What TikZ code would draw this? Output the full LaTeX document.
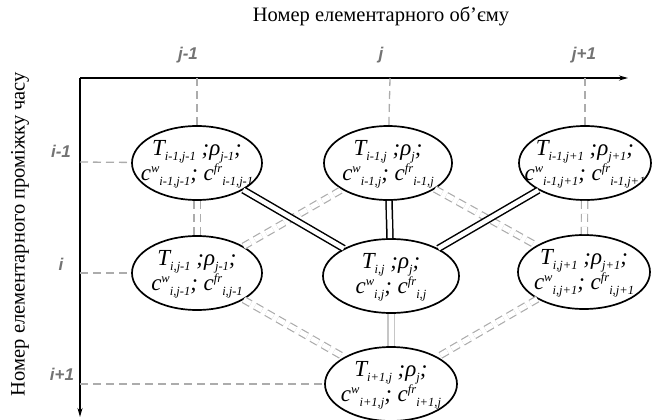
\documentclass[tikz,border=0pt]{standalone}
\usepackage{fontspec}
\setmainfont{Liberation Serif}
\newfontfamily\labfont{Liberation Sans}
\usetikzlibrary{shapes.geometric,arrows.meta}
\newcommand\lo[1]{\raisebox{-0.22em}{\fontsize{12.5}{12.5}\selectfont #1}}
\newcommand\hi[1]{\raisebox{0.32em}{\fontsize{12.5}{12.5}\selectfont #1}}
\newcommand\mkcell[4]{\node[cellshape,minimum width=#3,
  path picture={\node[celltext] at ([yshift=-1pt]path picture bounding box.center) {#4};}] (#1) at #2 {};}
\tikzset{
  cellshape/.style={ellipse, draw, line width=1.7pt, fill=white, minimum height=74pt, inner sep=0pt},
  celltext/.style={font=\fontsize{23}{23}\selectfont\itshape, align=center, inner sep=0pt},
  axis/.style={line width=1.4pt, -{Stealth[length=9pt,width=5pt]}},
  gline/.style={draw=gray!65, line width=1.3pt, dash pattern=on 8pt off 5pt},
  dbl/.style={line width=1.5pt, double, double distance=4.5pt},
  ddash/.style={draw=gray!65, line width=1.2pt, double, double distance=5pt, dash pattern=on 8pt off 5pt},
  lgdbl/.style={draw=gray!45, line width=1.1pt, double, double distance=5pt},
  ticklab/.style={font=\labfont\itshape\bfseries\fontsize{17}{17}\selectfont, text=black!55},
  axtitle/.style={font=\fontsize{20.5}{20.5}\selectfont}
}
\begin{document}
\begin{tikzpicture}[x=1pt,y=-1pt]
\useasboundingbox (0,0) rectangle (653,420);
% axes
\coordinate (O) at (80,78);
\coordinate (xe) at (628,78);
\coordinate (ye) at (80,417);
\draw[axis] (O) -- (xe);
\draw[axis] (O) -- (ye);
% titles
\node[axtitle] (xt) at (381,16) {Номер елементарного об’єму};
\node[axtitle, rotate=90] (yt) at (20,234) {Номер елементарного проміжку часу};
% tick labels
\node[ticklab] (lj1) at (188,55) {j-1};
\node[ticklab] (lj) at (381,55) {j};
\node[ticklab] (lj2) at (584,55) {j+1};
\node[ticklab] (li1) at (61,151) {i-1};
\node[ticklab] (li) at (61,264) {i};
\node[ticklab] (li2) at (62,374) {i+1};
% tick coordinates
\coordinate (tx1) at (197,78);
\coordinate (tx2) at (390,78);
\coordinate (tx3) at (585,78);
\coordinate (ty1) at (80,162);
\coordinate (ty2) at (80,273);
\coordinate (ty3) at (80,384);
% cells
\mkcell{A}{(197,163)}{130pt}{T\lo{i-1,j-1} ;ρ\lo{j-1};\\c\hi{w}\lo{i-1,j-1}; c\hi{fr}\lo{i-1,j-1}}
\mkcell{B}{(388,163)}{128pt}{T\lo{i-1,j} ;ρ\lo{j};\\c\hi{w}\lo{i-1,j}; c\hi{fr}\lo{i-1,j}}
\mkcell{C}{(585,163)}{132pt}{T\lo{i-1,j+1} ;ρ\lo{j+1};\\c\hi{w}\lo{i-1,j+1}; c\hi{fr}\lo{i-1,j+1}}
\mkcell{D}{(197,273)}{130pt}{T\lo{i,j-1} ;ρ\lo{j-1};\\c\hi{w}\lo{i,j-1}; c\hi{fr}\lo{i,j-1}}
\mkcell{E}{(391,276)}{136pt}{T\lo{i,j} ;ρ\lo{j};\\c\hi{w}\lo{i,j}; c\hi{fr}\lo{i,j}}
\mkcell{F}{(584,272)}{132pt}{T\lo{i,j+1} ;ρ\lo{j+1};\\c\hi{w}\lo{i,j+1}; c\hi{fr}\lo{i,j+1}}
\mkcell{G}{(391,384)}{132pt}{T\lo{i+1,j} ;ρ\lo{j};\\c\hi{w}\lo{i+1,j}; c\hi{fr}\lo{i+1,j}}
% guide lines
\draw[gline] (tx1) -- (A);
\draw[gline] (tx2) -- (B);
\draw[gline] (tx3) -- (C);
\draw[gline] (ty1) -- (A);
\draw[gline] (ty2) -- (D);
\draw[gline] (ty3) -- (G);
% dashed double connections
\draw[ddash] (A) -- (D);
\draw[ddash] (C) -- (F);
\draw[ddash] (D) -- (B);
\draw[ddash] (B) -- (F);
\draw[ddash] (D) -- (G);
\draw[ddash] (F) -- (G);
\draw[lgdbl] (E) -- (G);
% solid double connections
\draw[dbl] (A) -- (E);
\draw[dbl] (B) -- (E);
\draw[dbl] (C) -- (E);
\end{tikzpicture}
\end{document}
